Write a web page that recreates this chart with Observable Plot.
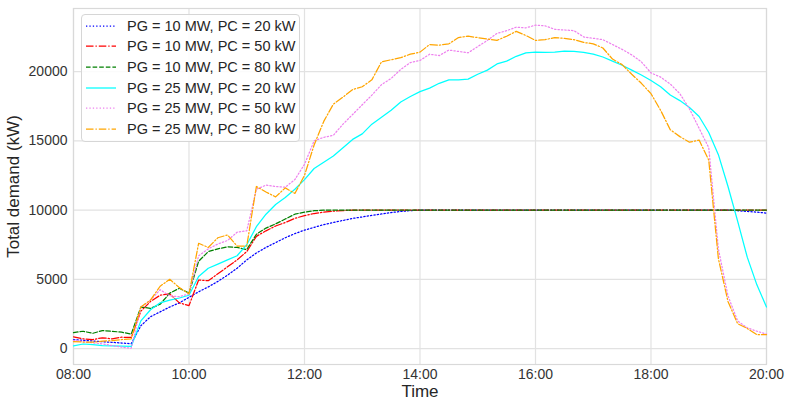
<!DOCTYPE html>
<html><head><meta charset="utf-8">
<script src="https://cdn.jsdelivr.net/npm/d3@7"></script>
<script src="https://cdn.jsdelivr.net/npm/@observablehq/plot@0.6"></script>
<style>
body{margin:0;background:#fff;font-family:"Liberation Sans",Arial,sans-serif;}
#wrap{position:relative;width:787px;height:401px;}
#legend{position:absolute;left:81px;top:14px;width:219px;height:128px;box-sizing:border-box;border:1px solid #d6d6d6;border-radius:4px;background:rgba(255,255,255,0.85);padding-top:0.5px;}
.row{display:flex;align-items:center;height:20.6px;}
.row svg{margin-left:4px;margin-right:11px;}
.row span{font-size:14.5px;color:#262626;white-space:nowrap;}
g[aria-label="y-axis label"] text, g[aria-label="x-axis label"] text{font-size:17px;fill:#262626;}
g[aria-label="y-axis tick label"] text, g[aria-label="x-axis tick label"] text{fill:#333;}
</style>
</head><body>
<div id="wrap"><div id="chart"></div><div id="legend"></div></div>
<script>
// sampling: one value every 10 minutes from 08:00 to 20:00
const startHour = 8;
const stepMinutes = 10;

const seriesNames = [
  "PG = 10 MW, PC = 20 kW",
  "PG = 10 MW, PC = 50 kW",
  "PG = 10 MW, PC = 80 kW",
  "PG = 25 MW, PC = 20 kW",
  "PG = 25 MW, PC = 50 kW",
  "PG = 25 MW, PC = 80 kW"
];

const pg10pc20 = [650,600,550,500,450,400,350,1650,2300,2650,3000,3300,3700,4100,4450,4850,5300,5800,6400,6900,7300,7650,8000,8300,8550,8750,8950,9100,9250,9400,9500,9620,9720,9820,9900,9960,9990,10000,10000,10000,10000,10000,10000,10000,10000,10000,10000,10000,10000,10000,10000,10000,10000,10000,10000,10000,10000,10000,10000,10000,10000,10000,10000,10000,10000,10000,10000,10000,10000,9950,9900,9850,9780];
const pg10pc50 = [850,700,650,780,700,820,800,2700,3400,3850,3950,3300,3100,4950,4900,5400,5900,6400,7000,8100,8500,8850,9100,9400,9600,9750,9850,9920,9960,9990,10000,10000,10000,10000,10000,10000,10000,10000,10000,10000,10000,10000,10000,10000,10000,10000,10000,10000,10000,10000,10000,10000,10000,10000,10000,10000,10000,10000,10000,10000,10000,10000,10000,10000,10000,10000,10000,10000,10000,10000,10000,10000,10000];
const pg10pc80 = [1150,1250,1100,1300,1250,1180,1050,3000,2900,3200,4000,4350,4000,6300,7000,7200,7350,7300,7150,8250,8700,9000,9350,9700,9850,9950,9990,10000,10000,10000,10000,10000,10000,10000,10000,10000,10000,10000,10000,10000,10000,10000,10000,10000,10000,10000,10000,10000,10000,10000,10000,10000,10000,10000,10000,10000,10000,10000,10000,10000,10000,10000,10000,10000,10000,10000,10000,10000,10000,10000,10000,10000,10000];
const pg25pc20 = [200,330,280,220,190,170,150,2000,2800,3300,3500,3650,3850,5200,5800,6100,6400,6700,7500,8800,9700,10400,10900,11500,12200,13000,13450,13900,14500,15100,15500,16200,16700,17200,17800,18200,18550,18800,19150,19400,19400,19450,19800,20100,20550,20750,21100,21350,21400,21380,21400,21480,21450,21380,21250,21050,20750,20450,20100,19750,19350,18900,18300,17900,17400,16750,15600,14000,11700,9200,6600,4600,3000];
const pg25pc50 = [600,500,420,340,220,100,30,3000,3500,4250,3800,3750,3950,6700,7200,7550,7800,8400,8500,11500,11800,11700,11650,12200,13300,15000,15250,15400,16200,16900,17600,18300,19050,19500,20150,20650,20800,21250,21150,21550,21450,21350,21800,22250,22750,22950,23200,23150,23350,23300,23050,23000,22950,22500,22400,22300,21950,21600,21200,20700,19900,19600,19100,18400,17300,15900,14500,7200,3800,2000,1500,1250,1050];
const pg25pc80 = [500,470,460,530,580,650,700,3000,3500,4500,5000,4400,3950,7600,7300,8000,8200,7400,7400,11700,11300,10950,11600,11200,12500,14700,16400,17650,18150,18700,18900,19400,20700,20850,21000,21250,21400,21950,21900,22000,22450,22550,22450,22350,22250,22550,22900,22600,22250,22300,22450,22400,22300,22100,22000,21700,20900,20500,19800,19150,18400,17200,15800,15300,14900,15050,13600,6500,3400,1800,1450,1000,1000];

const seriesValues = [pg10pc20, pg10pc50, pg10pc80, pg25pc20, pg25pc50, pg25pc80];

const tickHours = [8, 10, 12, 14, 16, 18, 20];
const tickLabels = ["08:00", "10:00", "12:00", "14:00", "16:00", "18:00", "20:00"];
const yTicks = [0, 5000, 10000, 15000, 20000];

const colors = ["#0000ff", "#ff0000", "#008000", "#00ffff", "#ee82ee", "#ffa500"];
const dashes = ["1.3,2.1", "7.5,2,1.3,2", "4.6,2", null, "1.3,2.1", "7.5,2,1.3,2"];
const lw = 1.25;

const rows = seriesValues.map(vals => vals.map((v, i) => ({t: startHour + i * stepMinutes / 60, v})));

const chart = Plot.plot({
  width: 787, height: 401,
  marginLeft: 73, marginRight: 21, marginTop: 8, marginBottom: 37,
  style: {fontFamily: "'Liberation Sans', Arial, sans-serif", fontSize: "14px", color: "#333", background: "white"},
  x: {domain: [8, 20], ticks: tickHours, tickFormat: h => tickLabels[tickHours.indexOf(h)], tickSize: 0, tickPadding: 5,
      label: "Time", labelAnchor: "center", labelArrow: "none", labelOffset: 32},
  y: {domain: [-1150, 24550], ticks: yTicks, tickFormat: d => String(d), tickSize: 0, tickPadding: 6,
      label: "Total demand (kW)", labelAnchor: "center", labelArrow: "none", labelOffset: 67},
  marks: [
    Plot.gridX(tickHours, {stroke: "#e2e2e2", strokeOpacity: 1, strokeWidth: 1.2}),
    Plot.gridY(yTicks, {stroke: "#e2e2e2", strokeOpacity: 1, strokeWidth: 1.2}),
    Plot.frame({stroke: "#d9d9d9", strokeWidth: 1.2}),
    ...rows.map((r, k) => Plot.line(r, {x: "t", y: "v", stroke: colors[k], strokeWidth: lw, strokeDasharray: dashes[k] ?? undefined}))
  ]
});
document.getElementById("chart").appendChild(chart);

const legend = d3.select("#legend");
seriesNames.forEach((name, k) => {
  const row = legend.append("div").attr("class", "row");
  const svg = row.append("svg").attr("width", 30).attr("height", 10);
  svg.append("line").attr("x1", 0).attr("x2", 30).attr("y1", 5).attr("y2", 5)
    .attr("stroke", colors[k]).attr("stroke-width", lw)
    .attr("stroke-dasharray", dashes[k] ?? null);
  row.append("span").text(name);
});
</script>
</body></html>
